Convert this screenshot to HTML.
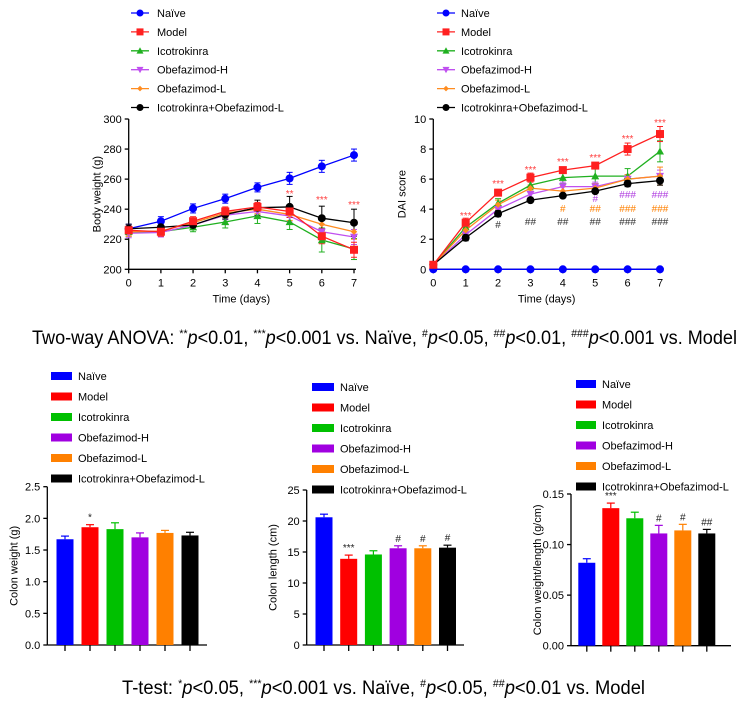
<!DOCTYPE html>
<html><head><meta charset="utf-8"><style>
body{margin:0;background:#fff;}
svg{display:block;font-family:"Liberation Sans",Arial,sans-serif;}
</style></head><body>
<svg id="s" width="750" height="701" xmlns="http://www.w3.org/2000/svg">
<text x="32" y="344" font-size="19" textLength="705" lengthAdjust="spacingAndGlyphs">Two-way ANOVA: <tspan font-size="11" dy="-7">**</tspan><tspan dy="7" font-style="italic">p</tspan>&lt;0.01, <tspan font-size="11" dy="-7">***</tspan><tspan dy="7" font-style="italic">p</tspan>&lt;0.001 vs. Naïve, <tspan font-size="11" dy="-7">#</tspan><tspan dy="7" font-style="italic">p</tspan>&lt;0.05, <tspan font-size="11" dy="-7">##</tspan><tspan dy="7" font-style="italic">p</tspan>&lt;0.01, <tspan font-size="11" dy="-7">###</tspan><tspan dy="7" font-style="italic">p</tspan>&lt;0.001 vs. Model</text>
<text x="122" y="694" font-size="19" textLength="523" lengthAdjust="spacingAndGlyphs">T-test: <tspan font-size="11" dy="-7">*</tspan><tspan dy="7" font-style="italic">p</tspan>&lt;0.05, <tspan font-size="11" dy="-7">***</tspan><tspan dy="7" font-style="italic">p</tspan>&lt;0.001 vs. Naïve, <tspan font-size="11" dy="-7">#</tspan><tspan dy="7" font-style="italic">p</tspan>&lt;0.05, <tspan font-size="11" dy="-7">##</tspan><tspan dy="7" font-style="italic">p</tspan>&lt;0.01 vs. Model</text>
</svg>
<script>
var s=document.getElementById('s'),h='';
var names=["Naïve","Model","Icotrokinra","Obefazimod-H","Obefazimod-L","Icotrokinra+Obefazimod-L"];
var lc=["#0000ff","#ff2020","#20b020","#c050f0","#ff8c20","#000000"];
var bc=["#0000ff","#ff0000","#00c000","#a000e0","#ff8000","#000000"];
function T(x,y,t,o){h+='<text x="'+x+'" y="'+y+'" font-size="'+((o&&o.fs)||11)+'"'+(o&&o.a?' text-anchor="'+o.a+'"':'')+(o&&o.c?' fill="'+o.c+'"':'')+(o&&o.tr?' transform="'+o.tr+'"':'')+'>'+t+'</text>';}
function L(a,b,c,d,col,w){h+='<line x1="'+a+'" y1="'+b+'" x2="'+c+'" y2="'+d+'" stroke="'+(col||'#000')+'" stroke-width="'+(w||1.3)+'"/>';}
function mk(i,x,y,r){var c=lc[i];r=r||4;
 if(i==0||i==5)h+='<circle cx="'+x+'" cy="'+y+'" r="'+r+'" fill="'+c+'"/>';
 else if(i==1)h+='<rect x="'+(x-r)+'" y="'+(y-r)+'" width="'+2*r+'" height="'+2*r+'" fill="'+c+'"/>';
 else if(i==2)h+='<polygon points="'+x+','+(y-r)+' '+(x+r)+','+(y+r*0.8)+' '+(x-r)+','+(y+r*0.8)+'" fill="'+c+'"/>';
 else if(i==3)h+='<polygon points="'+x+','+(y+r)+' '+(x+r)+','+(y-r*0.8)+' '+(x-r)+','+(y-r*0.8)+'" fill="'+c+'"/>';
 else h+='<polygon points="'+x+','+(y-r*0.8)+' '+(x+r*0.8)+','+y+' '+x+','+(y+r*0.8)+' '+(x-r*0.8)+','+y+'" fill="'+c+'"/>';}
[[131,157],[437,461]].forEach(function(p){for(var i=0;i<6;i++){var y=13+i*18.9;L(p[0],y,p[0]+18,y,lc[i],1.3);mk(i,p[0]+9,y,3.5);T(p[1],y+4,names[i]);}});
function lineChart(x0,x7,yT,yB,vmin,vmax,step,lab,data,err,ann){
 var X=function(i){return x0+(x7-x0)*i/7},Y=function(v){return yB-(v-vmin)/(vmax-vmin)*(yB-yT)};
 L(x0,yT,x0,yB);L(x0,yB,x7+2,yB);
 for(var v=vmin;v<=vmax+1e-9;v+=step){L(x0-4,Y(v),x0,Y(v));T(x0-7,Y(v)+4,v,{a:'end'});}
 for(var i=0;i<8;i++){L(X(i),yB,X(i),yB+4);T(X(i),yB+17,i,{a:'middle'});}
 T((x0+x7)/2,yB+33,'Time (days)',{a:'middle'});
 T(0,0,lab,{a:'middle',tr:'translate('+(x0-28)+','+((yT+yB)/2)+') rotate(-90)'});
 var ord=[0,2,3,4,5,1];
 ord.forEach(function(k){var d=data[k],p='';for(var i=0;i<8;i++){p+=(i?'L':'M')+X(i)+','+Y(d[i]);
  var e=err[k][i];if(e){L(X(i),Y(d[i]-e),X(i),Y(d[i]+e),lc[k],1);L(X(i)-3,Y(d[i]+e),X(i)+3,Y(d[i]+e),lc[k],1);L(X(i)-3,Y(d[i]-e),X(i)+3,Y(d[i]-e),lc[k],1);}}
  h+='<path d="'+p+'" fill="none" stroke="'+lc[k]+'" stroke-width="1.3"/>';});
 ord.forEach(function(k){for(var i=0;i<8;i++)mk(k,X(i),Y(data[k][i]),4);});
 ann.forEach(function(a){T(X(a[0]),a[1],a[2],{a:'middle',c:a[3],fs:10});});
}
lineChart(128.7,354,119,269.3,200,300,20,'Body weight (g)',
[[227,232,240.5,247,254.5,260.5,268.5,276],[226,225,232,238.5,241.5,238.5,222,213],[225,225,228,231.5,235.5,231.5,219.5,213.5],[224,224.5,229.5,236,238.5,235.5,225,221.5],[225,225.5,231,237.5,240,236.5,230,225],[227,228,229.5,236.5,241,241.5,234,231]],
[[3,3,3,3,3,4,4,4],[3,3,3,3,3,4,5,5],[3,3,3,4,5,5,8,7],[3,3,3,3,3,4,5,5],[3,3,3,3,3,4,5,5],[3,3,3,3,5,7,8,9]],
[[5,197,'**','#ff4040'],[6,203,'***','#ff4040'],[7,208,'***','#ff4040']]);
lineChart(433.3,660,119,269.3,0,10,2,'DAI score',
[[0,0,0,0,0,0,0,0],[0.3,3.1,5.1,6.1,6.6,6.9,8,9],[0.3,2.8,4.4,5.6,6.1,6.2,6.2,7.85],[0.3,2.3,4.0,5.0,5.5,5.5,6.0,6.2],[0.3,2.6,4.3,5.4,5.2,5.4,6.0,6.2],[0.3,2.1,3.7,4.6,4.9,5.2,5.7,5.9]],
[[0,0,0,0,0,0,0,0],[0.1,.3,.2,.3,.2,.2,.4,.5],[0.1,.3,.3,.3,.4,.5,.5,.7],[0.1,.2,.3,.2,.3,.3,.3,.4],[0.1,.2,.3,.2,.3,.3,.3,.6],[0.1,.2,.2,.1,.1,.1,.2,.3]],
[[1,219,'***','#ff4040'],[2,187,'***','#ff4040'],[3,173,'***','#ff4040'],[4,165,'***','#ff4040'],[5,161,'***','#ff4040'],[6,142,'***','#ff4040'],[7,126,'***','#ff4040'],
[2,228,'#','#333'],[3,225,'##','#333'],[4,225,'##','#333'],[5,225,'##','#333'],[6,225,'###','#333'],[7,225,'###','#333'],
[4,212,'#','#ff8000'],[5,212,'##','#ff8000'],[6,212,'###','#ff8000'],[7,212,'###','#ff8000'],
[5,202,'#','#b040e0'],[6,198,'###','#b040e0'],[7,198,'###','#b040e0']]);
[[51,78,376],[312,340,387],[576,602,384]].forEach(function(p){for(var i=0;i<6;i++){var y=p[2]+i*20.5;h+='<rect x="'+p[0]+'" y="'+(y-4)+'" width="'+(p[1]-p[0]-6)+'" height="8" fill="'+bc[i]+'"/>';T(p[1],y+4,names[i]);}});
function bar(ax,xe,yT,yB,vmax,step,dec,lab,b0,sp,vals,errs,ann){
 var Y=function(v){return yB-v/vmax*(yB-yT)};
 L(ax,yT,ax,yB);L(ax,yB,xe,yB);
 for(var v=0;v<=vmax+1e-9;v+=step){L(ax-4,Y(v),ax,Y(v));T(ax-7,Y(v)+4,v.toFixed(dec),{a:'end'});}
 T(0,0,lab,{a:'middle',tr:'translate('+(ax-30)+','+((yT+yB)/2)+') rotate(-90)'});
 for(var i=0;i<6;i++){var x=b0+i*sp,c=x+8.5,y=Y(vals[i]),ye=Y(vals[i]+errs[i]);
  L(c,y,c,ye,bc[i],1.2);L(c-4,ye,c+4,ye,bc[i],1.2);
  h+='<rect x="'+x+'" y="'+y+'" width="17" height="'+(yB-y)+'" fill="'+bc[i]+'"/>';
  L(c,yB,c,yB+6);
  if(ann[i])T(c,ye-4,ann[i],{a:'middle',fs:10,c:'#222'});}
}
bar(47.3,207,486.7,645,2.5,0.5,1,'Colon weight (g)',56.5,25,[1.67,1.86,1.83,1.70,1.77,1.73],[.05,.04,.10,.07,.04,.05],['','*','','','','']);
bar(306.7,464,490,645,25,5,0,'Colon length (cm)',315.5,24.7,[20.6,13.9,14.6,15.6,15.6,15.7],[.5,.6,.6,.4,.4,.4],['','***','','#','#','#']);
bar(571,731,494,645.7,0.15,0.05,2,'Colon weight/length (g/cm)',578.3,24,[.082,.136,.126,.111,.114,.111],[.004,.005,.006,.008,.006,.004],['','***','','#','#','##']);
s.insertAdjacentHTML('beforeend',h);
</script>
</body></html>
